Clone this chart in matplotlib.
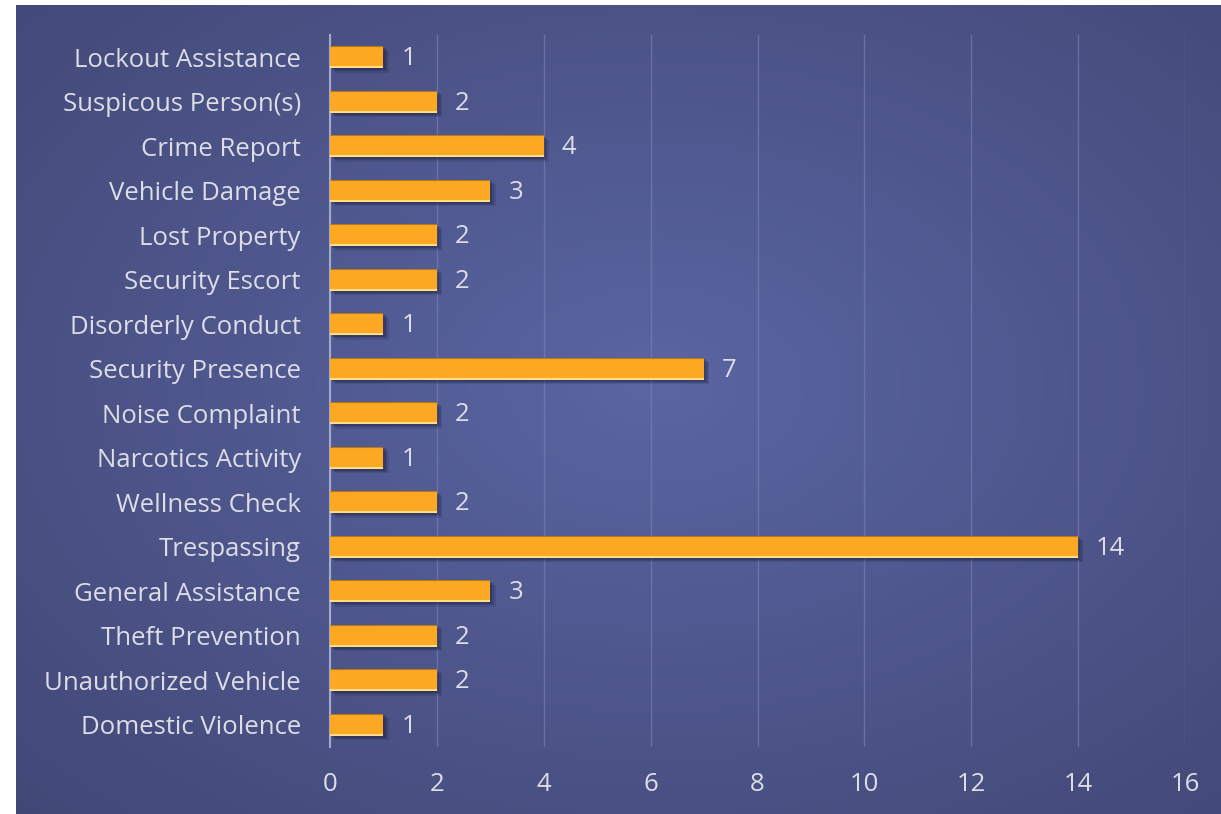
import numpy as np
import matplotlib.pyplot as plt

categories = [
    "Domestic Violence", "Unauthorized Vehicle", "Theft Prevention",
    "General Assistance", "Trespassing", "Wellness Check",
    "Narcotics Activity", "Noise Complaint", "Security Presence",
    "Disorderly Conduct", "Security Escort", "Lost Property",
    "Vehicle Damage", "Crime Report", "Suspicous Person(s)",
    "Lockout Assistance",
]
counts = [1, 2, 2, 3, 14, 2, 1, 2, 7, 1, 2, 2, 3, 4, 2, 1]
x_ticks = [0, 2, 4, 6, 8, 10, 12, 14, 16]

TEXT = "#dcdde6"
FS = 18.5
plt.rcParams["font.family"] = ["Open Sans", "DejaVu Sans"]

fig = plt.figure(figsize=(12.21, 8.14), dpi=100)
fig.patch.set_facecolor("white")

# radial gradient background panel
bg = fig.add_axes([16 / 1221, 0, 1 - 16 / 1221, 1 - 5 / 814])
bg.set_axis_off()
yy, xx = np.mgrid[0:1:300j, 0:1:450j]
r = np.sqrt(((xx - 0.53) / 0.75) ** 2 + ((yy - 0.47) / 0.75) ** 2)
r = np.clip(r, 0, 1)
inner = np.array([0x5a, 0x65, 0xa2]) / 255
outer = np.array([0x42, 0x48, 0x76]) / 255
img = inner[None, None, :] * (1 - r[..., None]) + outer[None, None, :] * r[..., None]
bg.imshow(img, aspect="auto", extent=[0, 1, 0, 1], origin="upper")

ax = fig.add_axes([330 / 1221, 1 - 747 / 814, 855 / 1221, 712 / 814])
ax.patch.set_alpha(0)
y = np.arange(len(categories))

# soft drop shadow
for k, a in [(0.10, 0.15), (0.07, 0.2), (0.04, 0.25)]:
    ax.barh(y - k, counts, left=k, height=0.5, color="#1a1c3a", alpha=a,
            edgecolor="none", zorder=2)
bars = ax.barh(y, counts, height=0.5, color="#fca823", edgecolor="none", zorder=3)
for b in bars:
    ax.plot([0, b.get_width()], [b.get_y() + 0.02, b.get_y() + 0.02],
            color="#ffe9a0", lw=1.2, zorder=4, solid_capstyle="butt")
    ax.plot([0, b.get_width()], [b.get_y() + b.get_height(), b.get_y() + b.get_height()],
            color="#8a5a10", lw=0.8, alpha=0.6, zorder=4, solid_capstyle="butt")

for yi, v in zip(y, counts):
    ax.annotate(str(v), (v, yi), xytext=(13, -1), textcoords="offset points",
                va="center", ha="left", color=TEXT, fontsize=FS)

ax.set_xlim(0, 16)
ax.set_ylim(-0.5, len(categories) - 0.5)
ax.set_xticks(x_ticks)
ax.set_yticks(y)
ax.set_yticklabels(categories)
ax.tick_params(axis="both", length=0, colors=TEXT, labelsize=FS)
ax.tick_params(axis="y", pad=21)
ax.tick_params(axis="x", pad=18)
ax.grid(axis="x", color="#8088bb", lw=1, alpha=0.55, zorder=0)
for s in ["top", "right", "bottom"]:
    ax.spines[s].set_visible(False)
ax.spines["left"].set_color("#a4a8cc")
ax.spines["left"].set_linewidth(1.5)

fig.savefig("out.png", dpi=100)
